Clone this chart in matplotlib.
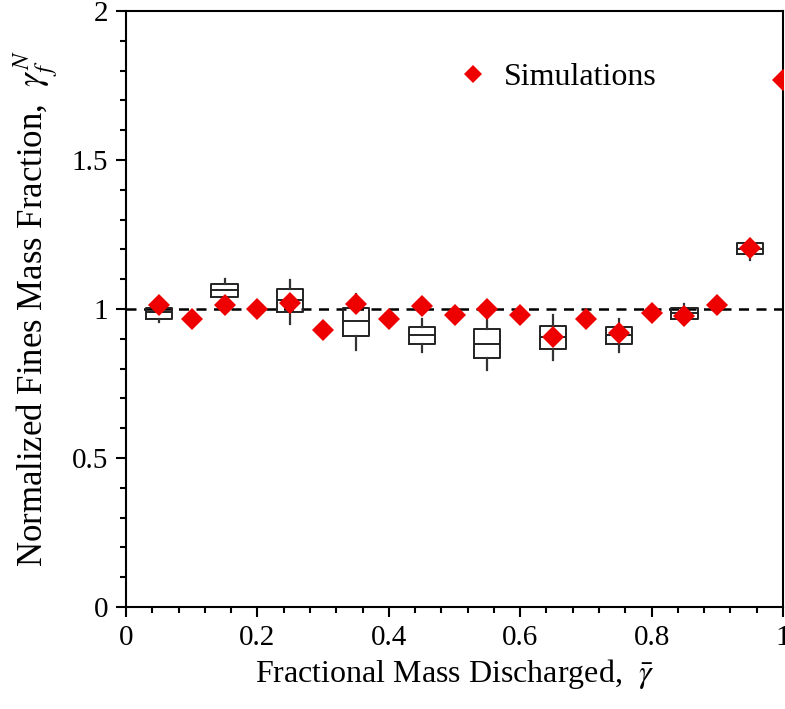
import matplotlib.pyplot as plt
import numpy as np
from matplotlib.ticker import MultipleLocator

plt.rcParams['font.family'] = ['Liberation Serif', 'DejaVu Serif']
plt.rcParams['mathtext.fontset'] = 'stix'

# Simulation results
sim_x = [0.05, 0.10, 0.15, 0.20, 0.25, 0.30, 0.35, 0.40, 0.45, 0.50,
         0.55, 0.60, 0.65, 0.70, 0.75, 0.80, 0.85, 0.90, 0.95, 1.00]
sim_y = [1.012, 0.965, 1.015, 1.000, 1.020, 0.928, 1.018, 0.965, 1.010, 0.980,
         1.000, 0.980, 0.905, 0.965, 0.920, 0.985, 0.975, 1.015, 1.205, 1.768]

# Experimental box statistics
box_x = [0.05, 0.15, 0.25, 0.35, 0.45, 0.55, 0.65, 0.75, 0.85, 0.95]
box_med = [0.990, 1.063, 1.029, 0.959, 0.912, 0.883, 0.905, 0.914, 0.985, 1.202]
box_q1 = [0.968, 1.041, 0.989, 0.909, 0.883, 0.836, 0.867, 0.882, 0.967, 1.183]
box_q3 = [1.002, 1.085, 1.066, 1.002, 0.940, 0.934, 0.944, 0.940, 1.004, 1.220]
box_lo = [0.955, 1.026, 0.951, 0.864, 0.855, 0.794, 0.830, 0.855, 0.954, 1.164]
box_hi = [1.010, 1.102, 1.097, 1.051, 0.968, 0.970, 0.981, 0.967, 1.018, 1.234]

fig = plt.figure(figsize=(7.85, 7.09), dpi=100)
ax = fig.add_axes([126 / 785, 1 - 607 / 709, (783 - 126) / 785, (607 - 11) / 709])

stats = []
for m, q1, q3, lo, hi in zip(box_med, box_q1, box_q3, box_lo, box_hi):
    stats.append({'med': m, 'q1': q1, 'q3': q3, 'whislo': lo, 'whishi': hi, 'fliers': []})

ax.bxp(stats, positions=box_x, widths=0.04, showcaps=False, manage_ticks=False,
       boxprops=dict(color='#222222', linewidth=1.4),
       whiskerprops=dict(color='#333333', linewidth=1.6),
       medianprops=dict(color='#222222', linewidth=1.4))

ax.axhline(1.0, color='black', linestyle=(0, (4, 3)), linewidth=1.8, zorder=1)

ax.plot(sim_x, sim_y, linestyle='none', marker='D', color='#ee0000',
        markersize=11, markeredgewidth=0, label='Simulations', zorder=3)

ax.set_xlim(0, 1)
ax.set_ylim(0, 2)
ax.xaxis.set_minor_locator(MultipleLocator(0.04))
ax.yaxis.set_minor_locator(MultipleLocator(0.1))
ax.set_xticks([0, 0.2, 0.4, 0.6, 0.8, 1.0])
ax.set_xticklabels(['0', '0.2', '0.4', '0.6', '0.8', '1'])
ax.set_yticks([0, 0.5, 1.0, 1.5, 2.0])
ax.set_yticklabels(['0', '0.5', '1', '1.5', '2'])
ax.tick_params(which='major', direction='out', length=7, width=1.5, labelsize=21, pad=6)
ax.tick_params(which='minor', direction='out', length=4, width=1.5)
for s in ax.spines.values():
    s.set_linewidth(1.5)

ax.set_xlabel(r'Fractional Mass Discharged,  $\bar{\gamma}$', fontsize=23, labelpad=4)
ax.set_ylabel(r'Normalized Fines Mass Fraction,  $\gamma_f^N$', fontsize=25, labelpad=8)

ax.legend(loc='center left', bbox_to_anchor=(0.504, 0.888), frameon=False, fontsize=23,
          markerscale=0.8, handletextpad=0.45, handlelength=1.0,
          borderaxespad=0, borderpad=0)

fig.savefig('out.png', dpi=100)
